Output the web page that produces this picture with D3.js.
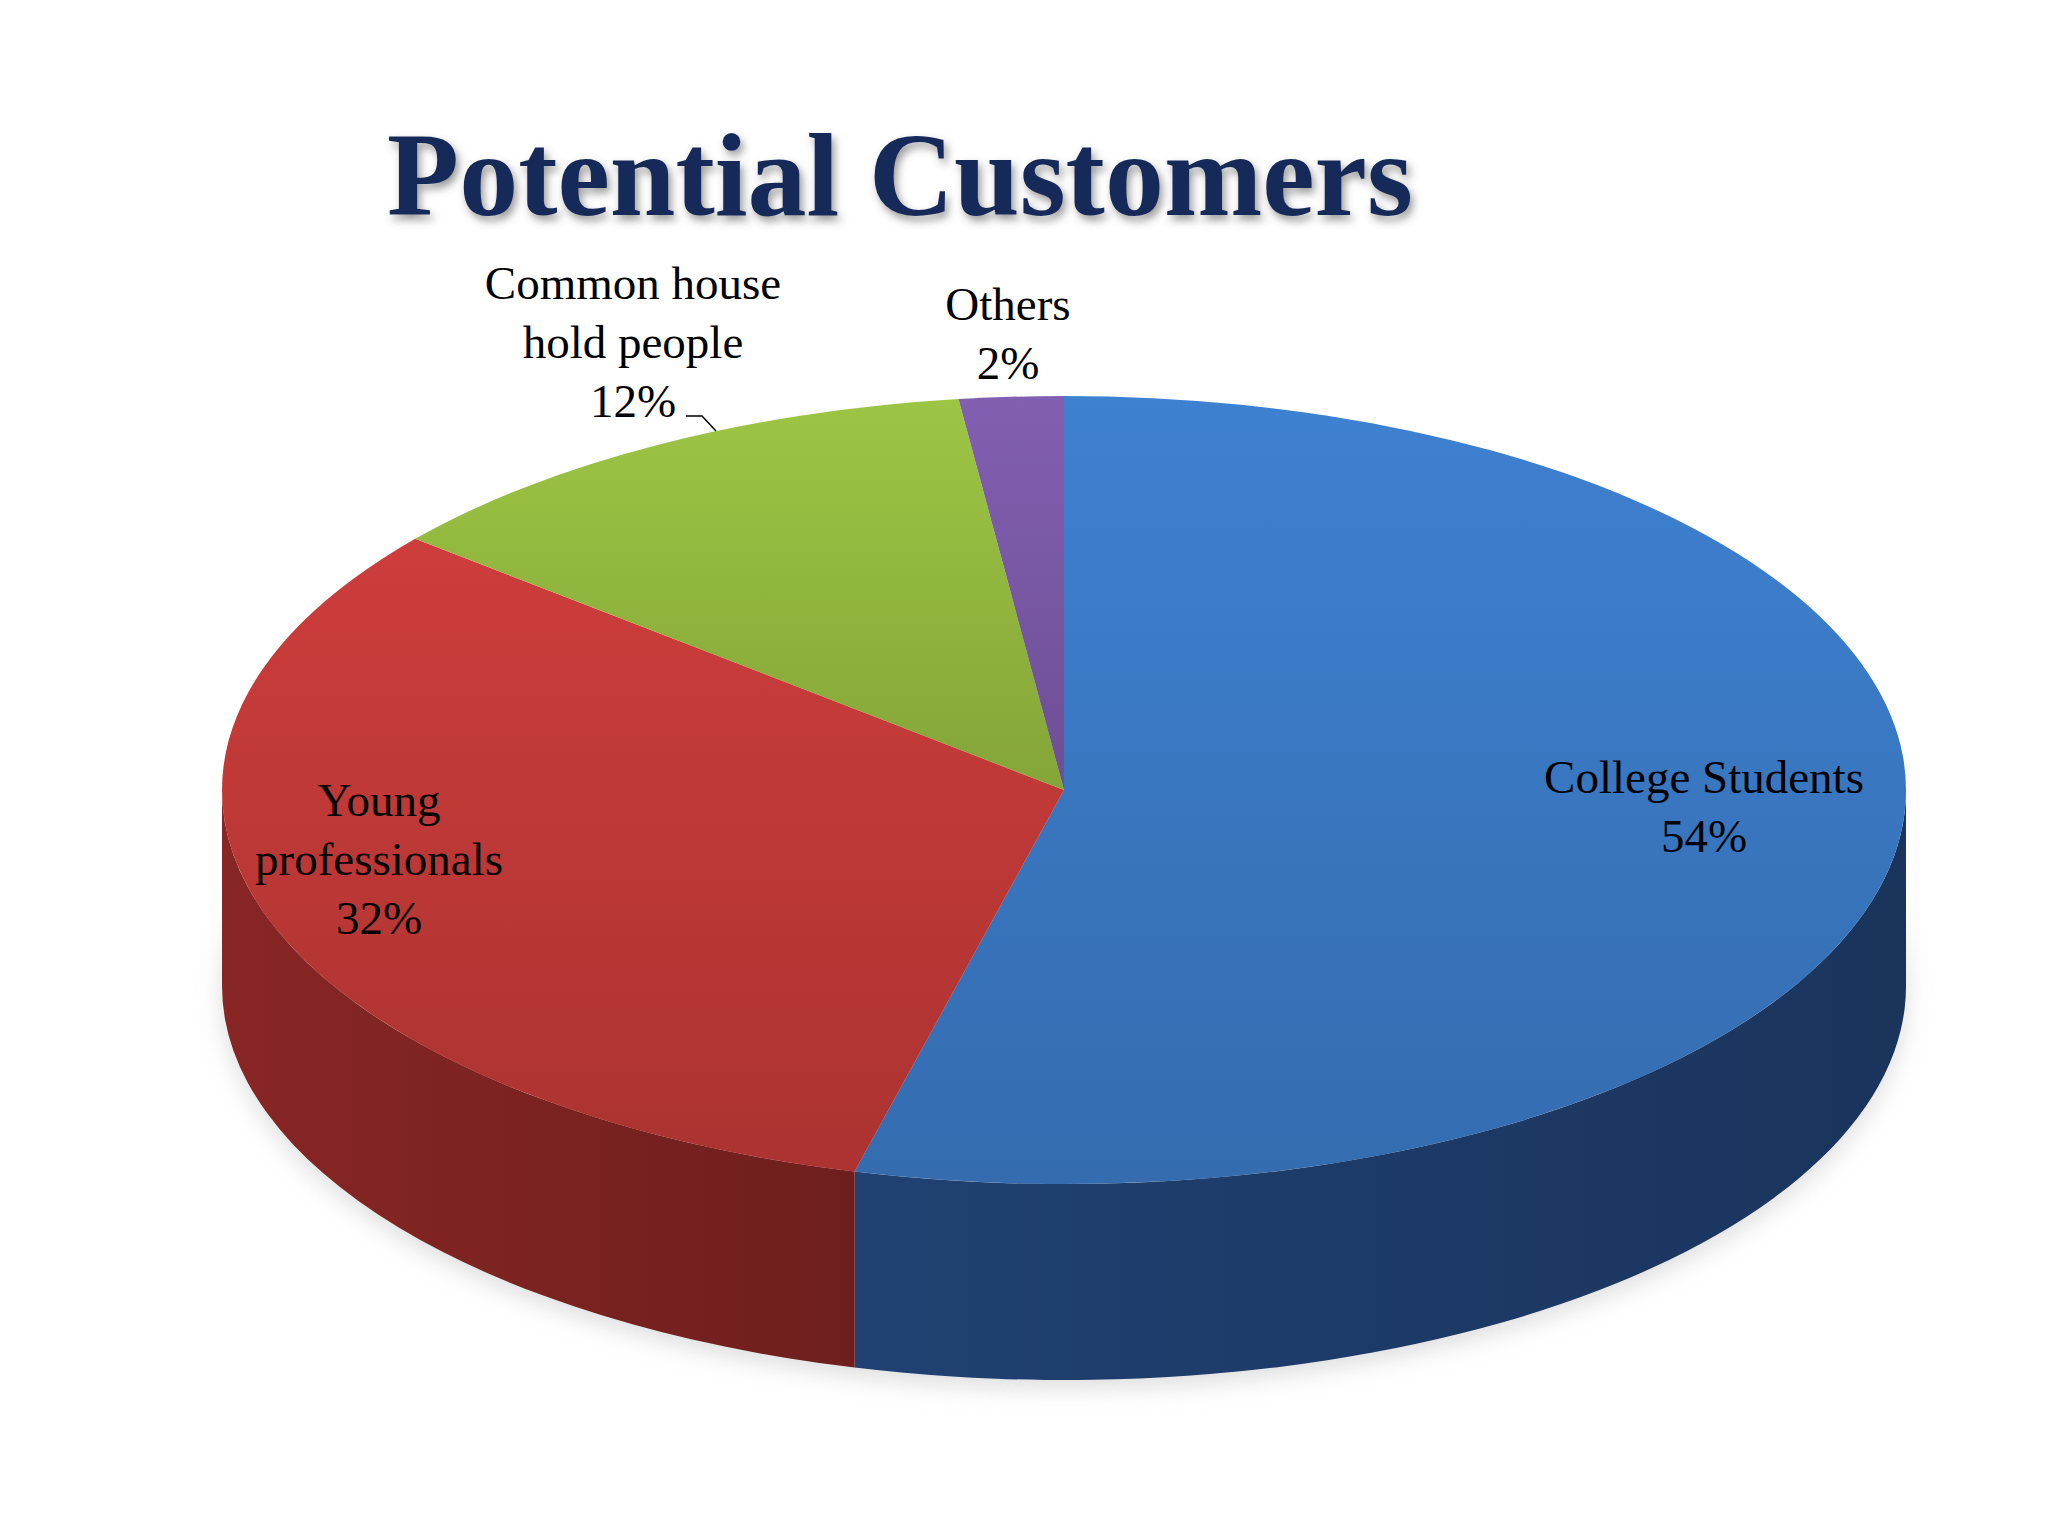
<!DOCTYPE html>
<html><head><meta charset="utf-8">
<script src="https://cdnjs.cloudflare.com/ajax/libs/d3/7.8.5/d3.min.js"></script>
<style>body{margin:0;background:#fff}</style>
</head><body>
<div id="chart"></div>
<script>
// data
var categories = ["College Students", "Young professionals", "Common house hold people", "Others"];
var values = [54, 32, 12, 2];
var labelLines = [["College Students", "54%"], ["Young", "professionals", "32%"], ["Common house", "hold people", "12%"], ["Others", "2%"]];
var topColors = ["#3b7ac6", "#c23a38", "#95bb40", "#7b5aa8"];
var sideColors = ["#1d3a66", "#7a2220", "#4f6a1f", "#3f2b5e"];

var W = 2048, H = 1536,
    cx = 1064, cy = 790, rx = 842, ry = 394, depth = 196;

var svg = d3.select("#chart").append("svg").attr("width", W).attr("height", H);
var defs = svg.append("defs");

// title
var f = defs.append("filter").attr("id", "shadow");
f.append("feDropShadow").attr("dx", 3).attr("dy", 5).attr("stdDeviation", 4).attr("flood-color", "#555").attr("flood-opacity", 0.6);
svg.append("text").attr("x", 900).attr("y", 215).attr("text-anchor", "middle")
    .attr("font-family", "Liberation Serif, serif").attr("font-weight", "bold").attr("font-size", 118)
    .attr("fill", "#16295a").attr("filter", "url(#shadow)").text("Potential Customers");

// angles: 0 at top, clockwise
var pie = d3.pie().sort(null).value(function (d) { return d; });
var arcs = pie(values);

function px(a, dy) { return [cx + rx * Math.sin(a), cy - ry * Math.cos(a) + (dy || 0)]; }

function topPath(d) {
    var p0 = px(d.startAngle), p1 = px(d.endAngle);
    var large = d.endAngle - d.startAngle > Math.PI ? 1 : 0;
    return "M" + cx + "," + cy + "L" + p0 + "A" + rx + "," + ry + " 0 " + large + " 1 " + p1 + "Z";
}

function sidePath(a0, a1) {
    var p0 = px(a0), p1 = px(a1), q1 = px(a1, depth), q0 = px(a0, depth);
    return "M" + p0 + "A" + rx + "," + ry + " 0 0 1 " + p1 + "L" + q1 +
        "A" + rx + "," + ry + " 0 0 0 " + q0 + "Z";
}

// gradients
arcs.forEach(function (d, i) {
    var g = defs.append("linearGradient").attr("id", "top" + i).attr("x1", 0).attr("y1", 0).attr("x2", 0).attr("y2", 1);
    g.append("stop").attr("offset", "0%").attr("stop-color", d3.color(topColors[i]).brighter(0.15));
    g.append("stop").attr("offset", "100%").attr("stop-color", d3.color(topColors[i]).darker(0.35));
    var s = defs.append("linearGradient").attr("id", "side" + i).attr("x1", 0).attr("y1", 0).attr("x2", 1).attr("y2", 0);
    s.append("stop").attr("offset", "0%").attr("stop-color", d3.color(sideColors[i]).brighter(0.3));
    s.append("stop").attr("offset", "100%").attr("stop-color", d3.color(sideColors[i]).darker(0.3));
});

// base shadow
var sf = defs.append("filter").attr("id", "blur").attr("x", "-20%").attr("y", "-20%").attr("width", "140%").attr("height", "140%");
sf.append("feGaussianBlur").attr("stdDeviation", 12);
svg.append("ellipse").attr("cx", cx).attr("cy", cy + depth + 8).attr("rx", rx).attr("ry", ry)
    .attr("fill", "#bbb").attr("opacity", 0.5).attr("filter", "url(#blur)");

// side walls (front half: angles between PI/2 and 3PI/2)
arcs.forEach(function (d, i) {
    var a0 = Math.max(d.startAngle, Math.PI / 2), a1 = Math.min(d.endAngle, 3 * Math.PI / 2);
    if (a1 > a0) {
        svg.append("path").attr("d", sidePath(a0, a1)).attr("fill", "url(#side" + i + ")");
    }
});

// tops
svg.selectAll(".slice").data(arcs).enter().append("path")
    .attr("class", "slice").attr("d", topPath)
    .attr("fill", function (d, i) { return "url(#top" + i + ")"; });

// labels
var labelPos = [[1704, 777], [379, 800], [633, 283], [1008, 304]];
labelLines.forEach(function (lines, i) {
    var t = svg.append("text").attr("text-anchor", "middle")
        .attr("font-family", "Liberation Serif, serif").attr("font-size", 47).attr("fill", "#000")
        .attr("x", labelPos[i][0]).attr("y", labelPos[i][1] + 16);
    lines.forEach(function (l, j) {
        t.append("tspan").attr("x", labelPos[i][0]).attr("dy", j ? 59 : 0).text(l);
    });
});
svg.append("path").attr("d", "M686,416L702,416L716,431").attr("fill", "none").attr("stroke", "#000").attr("stroke-width", 1.5);
</script>
</body></html>
